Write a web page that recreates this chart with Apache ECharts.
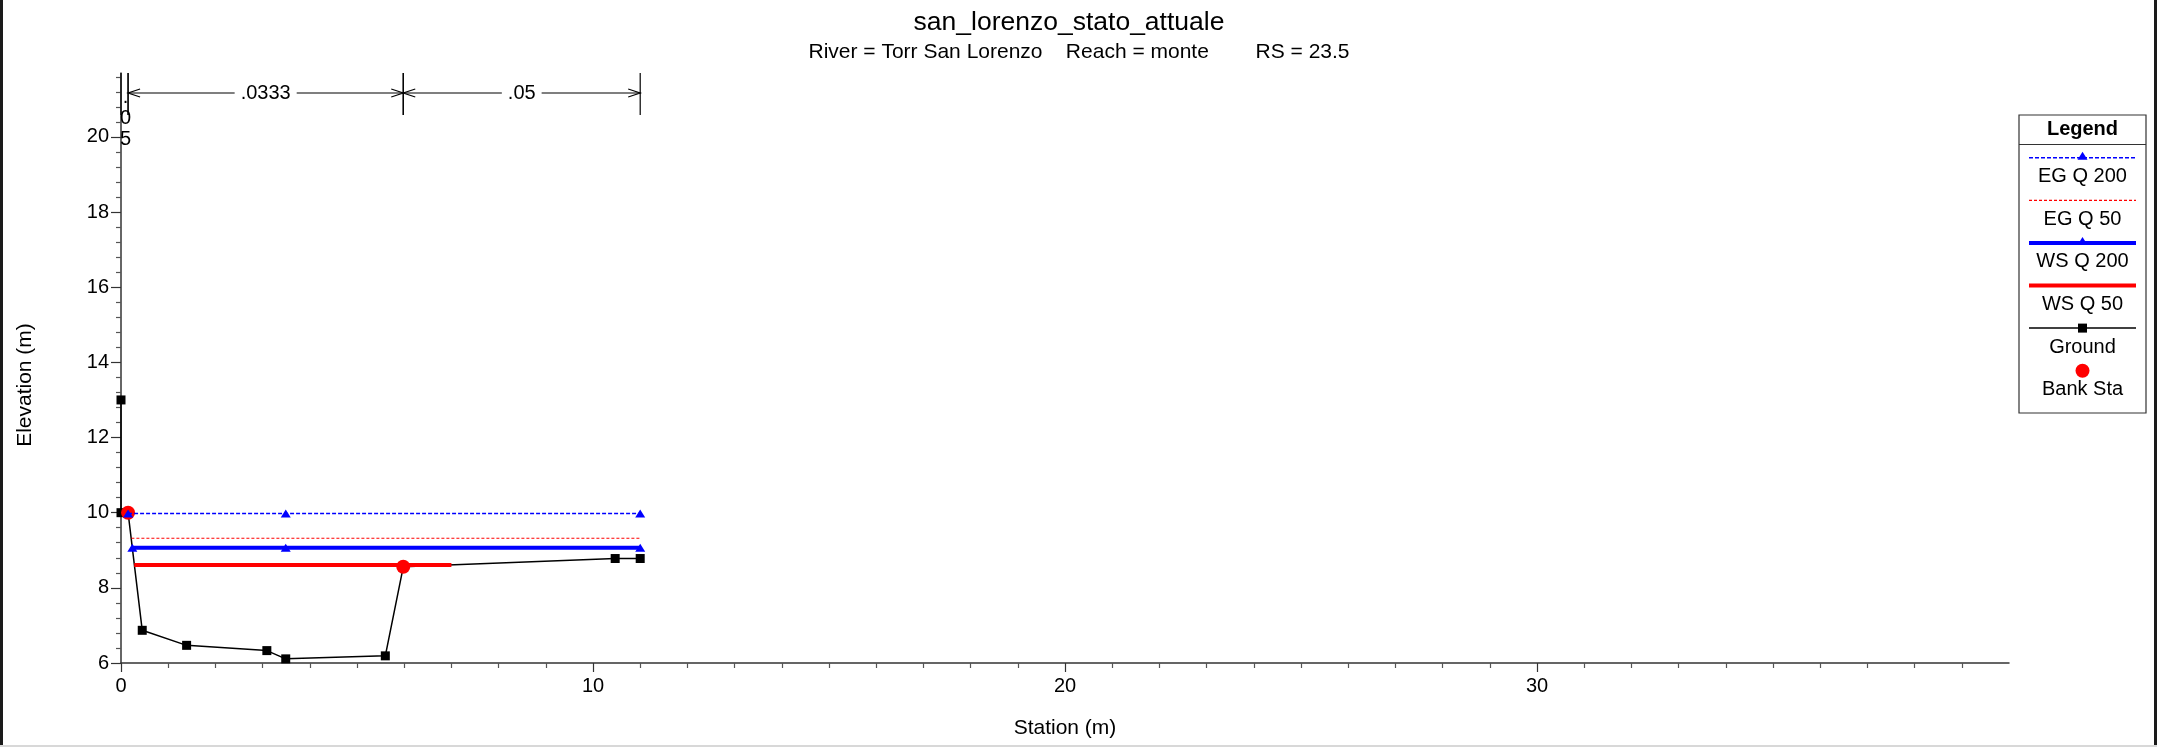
<!DOCTYPE html>
<html>
<head>
<meta charset="utf-8">
<script src="https://cdn.jsdelivr.net/npm/echarts@6/dist/echarts.min.js"></script>
<style>
html, body { margin: 0; padding: 0; background: #fff; }
#wrap { position: relative; width: 2157px; height: 747px; overflow: hidden; }
#chart { width: 2157px; height: 747px; }
.frame { position: absolute; pointer-events: none; }
</style>
</head>
<body>
<div id="wrap">
  <div id="chart"></div>
  <div class="frame" style="left:0;top:0;width:3px;height:747px;background:#1a1a1a"></div>
  <div class="frame" style="right:0;top:0;width:3px;height:747px;background:#1a1a1a"></div>
  <div class="frame" style="left:0;bottom:0;width:2157px;height:2px;background:#d8d8d8"></div>
</div>
<script>
// ---------------- data ----------------
const chartTitle = 'san_lorenzo_stato_attuale';
const chartSubtitle = 'River = Torr San Lorenzo    Reach = monte        RS = 23.5';
const xAxisName = 'Station (m)';
const yAxisName = 'Elevation (m)';

const groundStation = [0, 0, 0.15, 0.45, 1.39, 3.09, 3.49, 5.60, 5.98, 10.47, 11.00];
const groundElev    = [13.0, 10.0, 10.0, 6.87, 6.47, 6.33, 6.11, 6.19, 8.56, 8.78, 8.78];

const bankStation = [0.15, 5.98];
const bankElev    = [10.0, 8.56];

const egQ200Station = [0.15, 3.49, 11.0];
const egQ200Elev    = [9.98, 9.98, 9.98];

const egQ50Station = [0.22, 11.0];
const egQ50Elev    = [9.32, 9.32];

const wsQ200Station = [0.24, 3.49, 11.0];
const wsQ200Elev    = [9.07, 9.07, 9.07];

const wsQ50Station = [0.28, 7.0];
const wsQ50Elev    = [8.61, 8.61];

const nBreakStations = [0, 0.15, 5.98, 11.0];
const nValues = ['.05', '.0333', '.05'];

const xMajorTicks = [0, 10, 20, 30];
const xMinorTicks = [1, 2, 3, 4, 5, 6, 7, 8, 9, 11, 12, 13, 14, 15, 16, 17, 18, 19,
                     21, 22, 23, 24, 25, 26, 27, 28, 29, 31, 32, 33, 34, 35, 36, 37, 38, 39];
const yMajorTicks = [6, 8, 10, 12, 14, 16, 18, 20];
const yMinorTicks = [6.4, 6.8, 7.2, 7.6, 8.4, 8.8, 9.2, 9.6, 10.4, 10.8, 11.2, 11.6,
                     12.4, 12.8, 13.2, 13.6, 14.4, 14.8, 15.2, 15.6, 16.4, 16.8, 17.2, 17.6,
                     18.4, 18.8, 19.2, 19.6, 20.4, 20.8, 21.2, 21.6];

const legendNames = ['EG Q 200', 'EG Q 50', 'WS Q 200', 'WS Q 50', 'Ground', 'Bank Sta'];

// ---------------- styles / layout ----------------
const FONT = '"Liberation Sans", Arial, Helvetica, sans-serif';
const X_MIN = 0, X_MAX = 40, Y_MIN = 6, Y_MAX = 21.7;

const seriesStyle = {
  'EG Q 200': { color: '#0000ff', width: 1.5, type: [4, 2], symbol: 'triangle', symbolSize: [10, 8] },
  'EG Q 50':  { color: '#ff0000', width: 1.2, type: [3, 2], symbol: null },
  'WS Q 200': { color: '#0000ff', width: 4,   type: 'solid', symbol: 'triangle', symbolSize: [10, 8] },
  'WS Q 50':  { color: '#ff0000', width: 4,   type: 'solid', symbol: null },
  'Ground':   { color: '#000000', width: 1.5, type: 'solid', symbol: 'rect', symbolSize: 9 },
  'Bank Sta': { color: '#ff0000', width: 0,   type: 'solid', symbol: 'circle', symbolSize: 14 }
};

function zip(xs, ys) { return xs.map((x, i) => [x, ys[i]]); }

function lineSeries(name, xs, ys, z) {
  const s = seriesStyle[name];
  return {
    name, type: 'line', z,
    data: zip(xs, ys),
    showSymbol: !!s.symbol,
    symbol: s.symbol || 'none',
    symbolSize: s.symbolSize || 0,
    itemStyle: { color: s.color },
    lineStyle: { color: s.color, width: s.width, type: s.type },
    silent: true
  };
}

const chart = echarts.init(document.getElementById('chart'), null, { renderer: 'canvas' });

// n-value annotation (custom series through the axis scales)
const nData = nValues.map((v, i) => [nBreakStations[i], nBreakStations[i + 1]]);
function renderN(params, api) {
  const a = api.coord([api.value(0), Y_MAX]);
  const b = api.coord([api.value(1), Y_MAX]);
  const top = a[1];
  const tickLen = 42;
  const ay = top + 20;
  const label = nValues[params.dataIndex];
  const ls = { stroke: '#000', lineWidth: 1.2, fill: null };
  const children = [
    { type: 'line', shape: { x1: a[0], y1: top, x2: a[0], y2: top + tickLen }, style: ls },
    { type: 'line', shape: { x1: b[0], y1: top, x2: b[0], y2: top + tickLen }, style: ls }
  ];
  if (b[0] - a[0] > 60) {
    children.push(
      { type: 'line', shape: { x1: a[0], y1: ay, x2: b[0], y2: ay }, style: ls },
      { type: 'polyline', shape: { points: [[a[0] + 12, ay - 4], [a[0], ay], [a[0] + 12, ay + 4]] }, style: ls },
      { type: 'polyline', shape: { points: [[b[0] - 12, ay - 4], [b[0], ay], [b[0] - 12, ay + 4]] }, style: ls },
      { type: 'text', style: {
          text: label, x: (a[0] + b[0]) / 2, y: ay, align: 'center', verticalAlign: 'middle',
          font: '20px ' + FONT, fill: '#000', backgroundColor: '#fff', padding: [0, 6]
        } }
    );
  } else {
    children.push({ type: 'text', style: {
      text: label.split('').join('\n'), x: (a[0] + b[0]) / 2 + 1, y: top + 14,
      align: 'center', verticalAlign: 'top', lineHeight: 21,
      font: '20px ' + FONT, fill: '#000'
    } });
  }
  return { type: 'group', children };
}

// legend drawn as graphic from legendNames + seriesStyle
const LG = { x: 2019, y: 115, w: 127, h: 298, head: 29.5, first: 42.7, step: 42.6, lx1: 2029, lx2: 2136 };
const cx = LG.x + LG.w / 2;
const legendEls = [
  { type: 'rect', shape: { x: LG.x, y: LG.y, width: LG.w, height: LG.h }, style: { fill: '#fff', stroke: '#333', lineWidth: 1.2 }, z: 10 },
  { type: 'text', style: { text: 'Legend', x: cx, y: LG.y + 14, align: 'center', verticalAlign: 'middle', font: 'bold 20px ' + FONT, fill: '#000' }, z: 11 },
  { type: 'line', shape: { x1: LG.x, y1: LG.y + LG.head, x2: LG.x + LG.w, y2: LG.y + LG.head }, style: { stroke: '#333', lineWidth: 1.2 }, z: 11 }
];
legendNames.forEach((name, i) => {
  const s = seriesStyle[name];
  const ly = LG.y + LG.first + i * LG.step;
  if (s.width > 0) {
    legendEls.push({ type: 'line', shape: { x1: LG.lx1, y1: ly, x2: LG.lx2, y2: ly },
      style: { stroke: s.color, lineWidth: s.width, lineDash: Array.isArray(s.type) ? s.type : null }, z: 11 });
  }
  if (s.symbol === 'triangle') {
    legendEls.push({ type: 'polygon', shape: { points: [[cx, ly - 6], [cx - 5, ly + 2], [cx + 5, ly + 2]] }, style: { fill: s.color }, z: 12 });
  } else if (s.symbol === 'rect') {
    legendEls.push({ type: 'rect', shape: { x: cx - 4.5, y: ly - 4.5, width: 9, height: 9 }, style: { fill: s.color }, z: 12 });
  } else if (s.symbol === 'circle') {
    legendEls.push({ type: 'circle', shape: { cx: cx, cy: ly, r: 7 }, style: { fill: s.color }, z: 12 });
  }
  legendEls.push({ type: 'text', style: { text: name, x: cx, y: ly + 19, align: 'center', verticalAlign: 'middle', font: '20px ' + FONT, fill: '#000' }, z: 11 });
});

const axisLineStyle = { color: '#333', width: 1.5 };

const option = {
  animation: false,
  backgroundColor: '#fff',
  textStyle: { fontFamily: FONT },
  grid: { left: 121, right: 148, top: 73, bottom: 84, containLabel: false },
  graphic: [
    { type: 'text', style: { text: chartTitle, x: 1069, y: 23, align: 'center', verticalAlign: 'middle', font: '26.5px ' + FONT, fill: '#000' } },
    { type: 'text', style: { text: chartSubtitle, x: 1079, y: 52, align: 'center', verticalAlign: 'middle', font: '21px ' + FONT, fill: '#000' } },
    { type: 'text', x: 25, y: 385, rotation: Math.PI / 2, style: { text: yAxisName, x: 0, y: 0, align: 'center', verticalAlign: 'middle', font: '21px ' + FONT, fill: '#000' } },
    ...legendEls
  ],
  xAxis: [
    {
      type: 'value', min: X_MIN, max: X_MAX, position: 'bottom',
      name: xAxisName, nameLocation: 'middle', nameGap: 55,
      nameTextStyle: { fontSize: 21, color: '#000', fontFamily: FONT },
      axisLine: { show: true, onZero: false, lineStyle: axisLineStyle },
      axisTick: { show: true, customValues: xMajorTicks, length: 9, lineStyle: { color: '#333', width: 1.2 } },
      axisLabel: { show: true, customValues: xMajorTicks, fontSize: 20, color: '#000', margin: 13, fontFamily: FONT },
      splitLine: { show: false }
    },
    {
      type: 'value', min: X_MIN, max: X_MAX, position: 'bottom',
      axisLine: { show: false, onZero: false },
      axisTick: { show: true, customValues: xMinorTicks, length: 5, lineStyle: { color: '#555', width: 1.2 } },
      axisLabel: { show: false },
      splitLine: { show: false }
    }
  ],
  yAxis: [
    {
      type: 'value', min: Y_MIN, max: Y_MAX, position: 'left',
      axisLine: { show: true, onZero: false, lineStyle: axisLineStyle },
      axisTick: { show: true, customValues: yMajorTicks, length: 10, lineStyle: { color: '#333', width: 1.2 } },
      axisLabel: { show: true, customValues: yMajorTicks, fontSize: 20, color: '#000', margin: 12, fontFamily: FONT },
      splitLine: { show: false }
    },
    {
      type: 'value', min: Y_MIN, max: Y_MAX, position: 'left',
      axisLine: { show: false, onZero: false },
      axisTick: { show: true, customValues: yMinorTicks, length: 5, lineStyle: { color: '#555', width: 1.2 } },
      axisLabel: { show: false },
      splitLine: { show: false }
    }
  ],
  series: [
    lineSeries('Ground', groundStation, groundElev, 2),
    {
      name: 'Bank Sta', type: 'scatter', z: 3, silent: true,
      data: zip(bankStation, bankElev),
      symbol: 'circle', symbolSize: seriesStyle['Bank Sta'].symbolSize,
      itemStyle: { color: seriesStyle['Bank Sta'].color, opacity: 1 }
    },
    lineSeries('WS Q 50', wsQ50Station, wsQ50Elev, 4),
    lineSeries('WS Q 200', wsQ200Station, wsQ200Elev, 5),
    lineSeries('EG Q 50', egQ50Station, egQ50Elev, 6),
    lineSeries('EG Q 200', egQ200Station, egQ200Elev, 7),
    {
      name: 'n-values', type: 'custom', silent: true, clip: false, z: 8,
      data: nData, encode: { x: [0, 1] },
      renderItem: renderN
    }
  ]
};
chart.setOption(option);
</script>
</body>
</html>
